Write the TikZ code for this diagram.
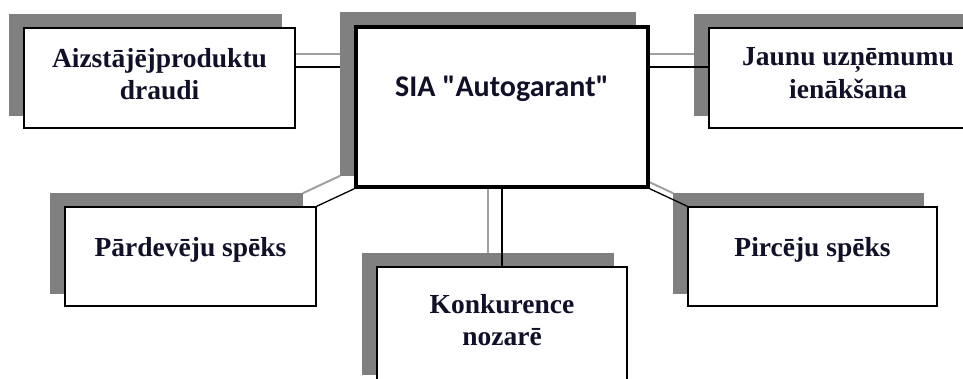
\documentclass[tikz,border=0pt]{standalone}
\usepackage{fontspec}
\usetikzlibrary{calc}
\setmainfont{Liberation Serif}
\newfontfamily\calfont{Carlito}
\definecolor{shadowgray}{HTML}{808080}
\definecolor{linegray}{HTML}{A0A0A0}
\definecolor{txt}{HTML}{101028}
\pgfdeclarelayer{lyA}
\pgfdeclarelayer{lyB}
\pgfdeclarelayer{lyC}
\pgfdeclarelayer{lyD}
\pgfsetlayers{lyA,lyB,lyC,lyD,main}
\begin{document}
\begin{tikzpicture}[x=1pt,y=-1pt,
  box/.style={draw=black, line width=1.5pt, fill=white, align=center, inner sep=0pt,
    text=txt, font=\bfseries\fontsize{27.5}{32.5}\selectfont},
  onebox/.style={box, text height=19pt, text depth=18pt},
  cbox/.style={draw=black, line width=3.5pt, fill=white, inner sep=0pt, text=txt,
    font=\calfont\bfseries\fontsize{30}{34}\selectfont, text height=21pt, text depth=41pt},
  shadowfill/.style={fill=shadowgray},
  shadowline/.style={draw=linegray, line width=2pt},
  conn/.style={draw=black, line width=1.3pt}
]
\useasboundingbox (0,0) rectangle (963,379);
\clip (0,0) rectangle (963,379);

% front boxes
\node[box, text depth=8pt, minimum width=271pt, minimum height=100pt] (b1) at (159.5,78) {Aizstājējproduktu\\draudi};
\node[box, text depth=10pt, minimum width=278pt, minimum height=100pt] (b3) at (848,78) {Jaunu uzņēmumu\\ienākšana};
\node[onebox, minimum width=251pt, minimum height=99pt] (b4) at (190.5,256.5) {Pārdevēju spēks};
\node[box, text depth=14pt, minimum width=250pt, minimum height=120pt] (b5) at (502,327) {Konkurence\\nozarē};
\node[onebox, minimum width=249pt, minimum height=99pt] (b6) at (812.5,256.5) {Pircēju spēks};
\node[cbox, minimum width=292pt, minimum height=160pt] (c) at (502,107) {SIA "Autogarant"};

% shadow connectors
\begin{pgfonlayer}{lyA}
  \draw[shadowline] ($(b1.east)+(-14,-24)$) -- ($(c.west |- b1.east)+(-14,-24)$);
  \draw[shadowline] ($(c.east |- b3.west)+(-14,-24)$) -- ($(b3.west)+(-14,-24)$);
  \draw[shadowline] ($(c.south)+(-14,-13)$) -- ($(b5.north)+(-14,-13)$);
  \draw[shadowline] ($(c.south west)+(-14,-13)$) -- ($(b4.north east)+(-14,-13)$);
  \draw[shadowline] ($(c.south east)+(-14,-13)$) -- ($(b6.north west)+(-14,-13)$);
\end{pgfonlayer}

% shadows of outer boxes
\begin{pgfonlayer}{lyB}
  \foreach \n in {b1,b3,b4,b5,b6}{
    \fill[shadowfill] ($(\n.south west)+(-14,-13)$) rectangle ($(\n.north east)+(-14,-13)$);
  }
\end{pgfonlayer}

% connectors
\begin{pgfonlayer}{lyC}
  \draw[conn] ($(b1.east)+(0,-11)$) -- ($(c.west |- b1.east)+(0,-11)$);
  \draw[conn] ($(c.east |- b3.west)+(0,-11)$) -- ($(b3.west)+(0,-11)$);
  \draw[conn] (c.south) -- (b5.north);
  \draw[conn] (c.south west) -- (b4.north east);
  \draw[conn] (c.south east) -- (b6.north west);
\end{pgfonlayer}

% shadow of centre box
\begin{pgfonlayer}{lyD}
  \fill[shadowfill] ($(c.south west)+(-14,-13)$) rectangle ($(c.north east)+(-14,-13)$);
\end{pgfonlayer}
\end{tikzpicture}
\end{document}
